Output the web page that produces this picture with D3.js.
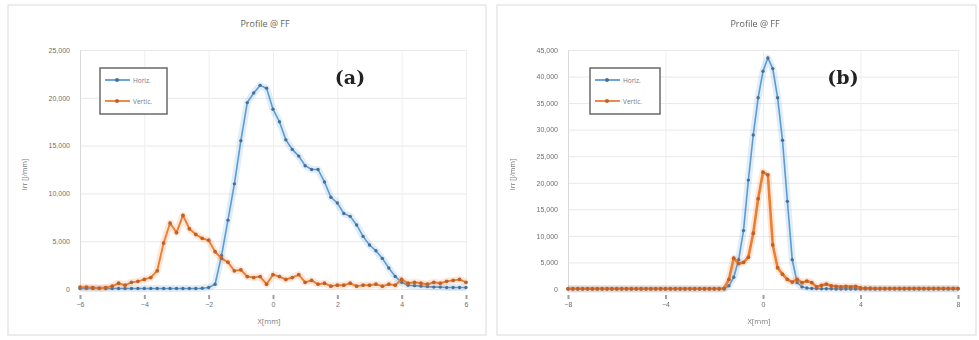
<!DOCTYPE html>
<html>
<head>
<meta charset="utf-8">
<script src="https://cdn.jsdelivr.net/npm/d3@7"></script>
<style>
body { margin:0; background:#fff; }
svg { font-family: "Open Sans", "Liberation Sans", sans-serif; filter: blur(0.5px); }
</style>
</head>
<body>
<svg id="chart"></svg>
<script>
// ---- data (a) : step 0.2 mm from -6 to 6
var xTicksA = [-6,-4,-2,0,2,4,6]
var yTicksA = [0,5000,10000,15000,20000,25000]
var horizA = [50,50,50,50,50,50,50,50,50,50,
              50,50,50,50,50,50,50,50,50,80,
              150,500,3500,7200,11000,15500,19500,20500,21300,21000,
              18800,17500,15600,14600,13900,12900,12500,12500,11200,9600,
              9000,7900,7600,6700,5500,4600,4000,3200,2200,1300,
              700,400,350,300,250,200,200,150,150,150,150]
var vertA = [200,200,150,100,150,300,600,400,700,800,
             1000,1200,1900,4800,6900,5900,7700,6300,5700,5300,
             5100,3900,3200,2800,1900,2000,1300,1200,1300,500,
             1500,1300,1000,1200,1500,700,900,500,600,300,
             400,400,600,300,400,400,500,300,500,400,
             1000,600,700,600,500,700,600,800,900,1000,700]

// ---- data (b) : step 0.2 mm from -8 to 8
var xTicksB = [-8,-4,0,4,8]
var yTicksB = [0,5000,10000,15000,20000,25000,30000,35000,40000,45000]
var horizB = [0,0,0,0,0,0,0,0,0,0,
              0,0,0,0,0,0,0,0,0,0,
              0,0,0,0,0,0,0,0,0,0,
              0,0,0,600,2200,5500,11000,20500,29000,36000,
              41000,43500,41500,36000,28000,16500,5500,1200,400,200,
              100,100,50,50,50,0,0,0,0,0,
              0,0,0,0,0,0,0,0,0,0,
              0,0,0,0,0,0,0,0,0,0,0]
var vertB = [50,50,50,50,50,50,50,50,50,50,
             50,50,50,50,50,50,50,50,50,50,
             50,50,50,50,50,50,50,50,50,50,
             50,50,100,1800,5800,4800,5000,6000,10500,17000,
             22000,21500,8300,4000,2800,1800,1300,1800,1200,1500,
             1200,400,700,900,600,500,400,500,400,500,
             200,150,150,100,100,100,100,100,100,100,
             100,100,100,100,100,100,100,100,100,100,100]

var seriesNames = ["Horiz.","Vertic."]
var colors = {blue:"#5b9bd5", blueDark:"#4a6f96", orange:"#ed7d31", orangeDark:"#c0612a"}

var screen = {width:979,height:340}

var svg = d3.select("#chart")
    .attr("width",screen.width)
    .attr("height",screen.height)

var makeX = function(start,n)
{
    var arr = []
    for (var i=0;i<n;i++) arr.push(+(start+i*0.2).toFixed(2))
    return arr
}

var drawPanel = function(cfg)
{
    var g = svg.append("g")

    g.append("rect")
        .attr("x",cfg.box[0]).attr("y",cfg.box[1])
        .attr("width",cfg.box[2]).attr("height",cfg.box[3])
        .attr("fill","#fff").attr("stroke","#d9d9d9").attr("stroke-width",1)

    var xScale = d3.scaleLinear().domain(cfg.xDomain).range([cfg.left,cfg.right])
    var yScale = d3.scaleLinear().domain(cfg.yDomain).range([cfg.bottom,cfg.top])

    // horizontal grid
    g.append("g")
        .attr("transform","translate("+cfg.left+",0)")
        .call(d3.axisLeft(yScale).tickValues(cfg.yTicks).tickSize(-(cfg.right-cfg.left)).tickFormat(""))
        .call(function(a){ a.select(".domain").remove() })
        .selectAll("line").attr("stroke","#e8e8e8")

    // vertical grid
    g.append("g")
        .attr("transform","translate(0,"+cfg.bottom+")")
        .call(d3.axisBottom(xScale).tickValues(cfg.xTicks).tickSize(-(cfg.bottom-cfg.top)).tickFormat(""))
        .call(function(a){ a.select(".domain").remove() })
        .selectAll("line").attr("stroke","#eeeeee")

    // y axis labels
    var yAxis = g.append("g")
        .attr("transform","translate("+cfg.left+",0)")
        .call(d3.axisLeft(yScale).tickValues(cfg.yTicks).tickSize(0).tickPadding(10).tickFormat(d3.format(",")))
    yAxis.select(".domain").attr("stroke","#d9d9d9")
    yAxis.selectAll("text").attr("fill","#6f6f6f").style("font-size","7px")

    // x axis
    var xAxis = g.append("g")
        .attr("transform","translate(0,"+(cfg.bottom+6)+")")
        .call(d3.axisBottom(xScale).tickValues(cfg.xTicks).tickSize(4).tickPadding(3))
    xAxis.select(".domain").remove()
    xAxis.selectAll("line").attr("stroke","#a0a0a0").attr("stroke-width",2)
    xAxis.selectAll("text").attr("fill","#6f6f6f").style("font-size","7px")

    // titles
    g.append("text").attr("x",(cfg.left+cfg.right)/2-8).attr("y",27)
        .attr("text-anchor","middle").attr("fill","#5f5f5f").style("font-size","9px")
        .text("Profile @ FF")
    g.append("text").attr("x",(cfg.left+cfg.right)/2-4).attr("y",324)
        .attr("text-anchor","middle").attr("fill","#7a7a7a").style("font-size","7.5px")
        .text("X[mm]")
    g.append("text")
        .attr("transform","translate("+(cfg.left-53)+","+((cfg.top+cfg.bottom)/2+5)+") rotate(-90)")
        .attr("text-anchor","middle").attr("fill","#7a7a7a").style("font-size","7px")
        .text("Irr [J/mm]")

    var xs = makeX(cfg.xDomain[0],cfg.series[0].length)

    var line = d3.line()
        .x(function(d,i){ return xScale(xs[i]) })
        .y(function(d){ return yScale(d) })

    var drawSeries = function(data,col,dark,r,w)
    {
        g.append("path").datum(data)
            .attr("d",line).attr("fill","none")
            .attr("stroke",col).attr("stroke-opacity",0.18).attr("stroke-width",7)
            .attr("stroke-linejoin","round")
        g.append("path").datum(data)
            .attr("d",line).attr("fill","none")
            .attr("stroke",col).attr("stroke-width",w)
        g.append("g").selectAll("circle")
            .data(data).enter()
            .append("circle")
            .attr("cx",function(d,i){ return xScale(xs[i]) })
            .attr("cy",function(d){ return yScale(d) })
            .attr("r",r)
            .attr("fill",dark)
    }
    drawSeries(cfg.series[0],colors.blue,colors.blueDark,1.7,1.6)
    drawSeries(cfg.series[1],colors.orange,colors.orangeDark,1.9,cfg.orangeWidth)

    // legend
    var lg = g.append("g").attr("transform","translate("+cfg.legend[0]+","+cfg.legend[1]+")")
    lg.append("rect").attr("width",cfg.legend[2]).attr("height",46)
        .attr("fill","#fff").attr("stroke","#6a6a6a").attr("stroke-width",1.5)
    seriesNames.forEach(function(name,i)
    {
        var c = i==0 ? colors.blue : colors.orange
        var cd = i==0 ? colors.blueDark : colors.orangeDark
        var yy = 12 + i*21
        lg.append("line").attr("x1",5).attr("x2",30).attr("y1",yy).attr("y2",yy)
            .attr("stroke",c).attr("stroke-width",1.8)
        lg.append("circle").attr("cx",17).attr("cy",yy).attr("r",2).attr("fill",cd)
        lg.append("text").attr("x",33).attr("y",yy+2.5)
            .attr("fill","#7a7a7a").style("font-size","6.5px").text(name)
    })

    // panel tag
    g.append("text").attr("x",cfg.tag[0]).attr("y",cfg.tag[1])
        .attr("text-anchor","middle")
        .style("font-family","'DejaVu Serif', 'Liberation Serif', serif")
        .style("font-weight","bold").style("font-size","19px").attr("fill","#222")
        .text(cfg.tag[2])
}

drawPanel({
    box:[8,5,478,330],
    left:80,right:466,top:50,bottom:289,
    xDomain:[-6,6], yDomain:[0,25000],
    xTicks:xTicksA, yTicks:yTicksA,
    series:[horizA,vertA],
    orangeWidth:1.9,
    legend:[100,68,67],
    tag:[350,84,"(a)"]
})

drawPanel({
    box:[497,5,479,330],
    left:568,right:958,top:50,bottom:289,
    xDomain:[-8,8], yDomain:[0,45000],
    xTicks:xTicksB, yTicks:yTicksB,
    series:[horizB,vertB],
    orangeWidth:2.6,
    legend:[590,68,70],
    tag:[843,84,"(b)"]
})
</script>
</body>
</html>
